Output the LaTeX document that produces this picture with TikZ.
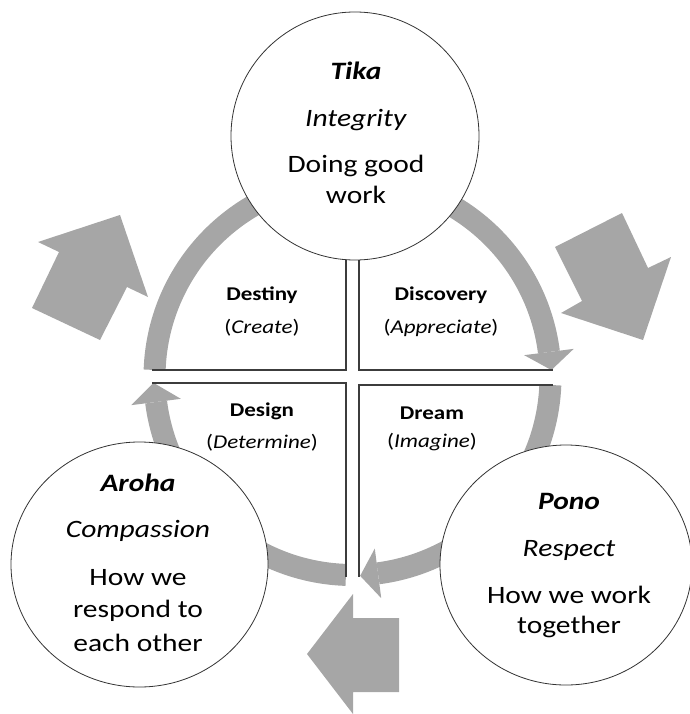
\documentclass[tikz,border=0pt]{standalone}
\usepackage{fontspec}
\setmainfont{Carlito}[FakeStretch=1.18]
\usetikzlibrary{calc,shapes.geometric}
\definecolor{arcgray}{RGB}{166,166,166}
\definecolor{linegray}{RGB}{60,60,60}
\begin{document}
\begin{tikzpicture}[x=1pt,y=1pt,
  band/.style={arcgray,line width=22pt},
  headfill/.style={fill=arcgray},
  blockarrow/.style={fill=arcgray},
  quadline/.style={draw=linegray,line width=1.3pt},
  bubble/.style={draw=black!80,line width=0.8pt,fill=white,inner sep=0pt},
  bigtxt/.style={anchor=base,inner sep=0pt,font=\fontsize{25}{30}\selectfont},
  smalltxt/.style={anchor=base,inner sep=0pt,font=\fontsize{19.5}{23}\selectfont}]
\useasboundingbox (0,0) rectangle (689,-714);
\coordinate (C) at (352.5,-377);
% circular band segments
\draw[band] (C) ++(90:198) arc[start angle=90,end angle=7.25,radius=198];
\draw[band] (C) ++(-2.3:198) arc[start angle=-2.3,end angle=-55,radius=198];
\draw[band] (C) ++(-55:198) arc[start angle=-55,end angle=-82.6,radius=198];
\draw[band] (C) ++(-91.9:198) arc[start angle=-91.9,end angle=-125,radius=198];
\draw[band] (C) ++(235:198) arc[start angle=235,end angle=187.25,radius=198];
\draw[band] (C) ++(177.97:198) arc[start angle=177.97,end angle=90,radius=198];
% arrow heads on the band
\fill[headfill] ($(C)+(7.25:173)$) -- ($(C)+(2:199)$) -- ($(C)+(7.25:223)$) -- cycle;
\fill[headfill] ($(C)+(-82.6:173)$) -- ($(C)+(-87.8:199)$) -- ($(C)+(-82.6:223)$) -- cycle;
\fill[headfill] ($(C)+(187.25:173)$) -- ($(C)+(181.7:199)$) -- ($(C)+(187.25:223)$) -- cycle;
% quadrant edges
\coordinate (tl) at (346,-370);
\coordinate (tr) at (359,-370);
\coordinate (bl) at (346,-383);
\coordinate (br) at (359,-385);
\draw[quadline] (346,-250) -- (tl) -- (152,-370);
\draw[quadline] (359,-250) -- (tr) -- (553,-370);
\draw[quadline] (152,-383) -- (bl) -- (346,-577);
\draw[quadline] (553,-385) -- (br) -- (359,-577);
% circles
\node[bubble,circle,minimum size=248] (tika) at (355,-136) {};
\node[bubble,ellipse,minimum width=257,minimum height=245] (aroha) at (139.5,-564.5) {};
\node[bubble,ellipse,minimum width=252,minimum height=240] (pono) at (566,-565) {};
% circle texts
\node[bigtxt] (t1) at (356,-80) {\textbf{\textit{Tika}}};
\node[bigtxt] (t2) at (356,-127) {\textit{Integrity}};
\node[bigtxt] (t3) at (356,-173) {Doing good};
\node[bigtxt] (t4) at (356,-203) {work};
\node[bigtxt] (a1) at (138,-491) {\textbf{\textit{Aroha}}};
\node[bigtxt] (a2) at (138,-537) {\textit{Compassion}};
\node[bigtxt] (a3) at (138,-585) {How we};
\node[bigtxt] (a4) at (138,-617) {respond to};
\node[bigtxt] (a5) at (138,-651) {each other};
\node[bigtxt] (p1) at (569,-509) {\textbf{\textit{Pono}}};
\node[bigtxt] (p2) at (569,-556) {\textit{Respect}};
\node[bigtxt] (p3) at (569,-603) {How we work};
\node[bigtxt] (p4) at (569,-633) {together};
% quadrant labels
\node[smalltxt] (q1) at (262,-300) {\textbf{Destiny}};
\node[smalltxt] (q1b) at (262,-333) {(\textit{Create})};
\node[smalltxt] (q2) at (441,-300) {\textbf{Discovery}};
\node[smalltxt] (q2b) at (441,-333) {(\textit{Appreciate})};
\node[smalltxt] (q3) at (262,-416) {\textbf{Design}};
\node[smalltxt] (q3b) at (262,-448) {(\textit{Determine})};
\node[smalltxt] (q4) at (432,-419) {\textbf{Dream}};
\node[smalltxt] (q4b) at (432,-447) {(\textit{Imagine})};
% block arrows
\fill[blockarrow] (120,-215) -- (148,-297) -- (127,-287) -- (100,-340) -- (32,-308) -- (59,-252) -- (38,-242) -- cycle;
\fill[blockarrow] (622,-213) -- (648,-268) -- (671,-257) -- (643,-340) -- (561,-313) -- (582,-301) -- (555,-247) -- cycle;
\fill[blockarrow] (307,-654) -- (353,-594) -- (353,-618) -- (399,-618) -- (399,-692) -- (353,-692) -- (353,-714) -- cycle;
\end{tikzpicture}
\end{document}
